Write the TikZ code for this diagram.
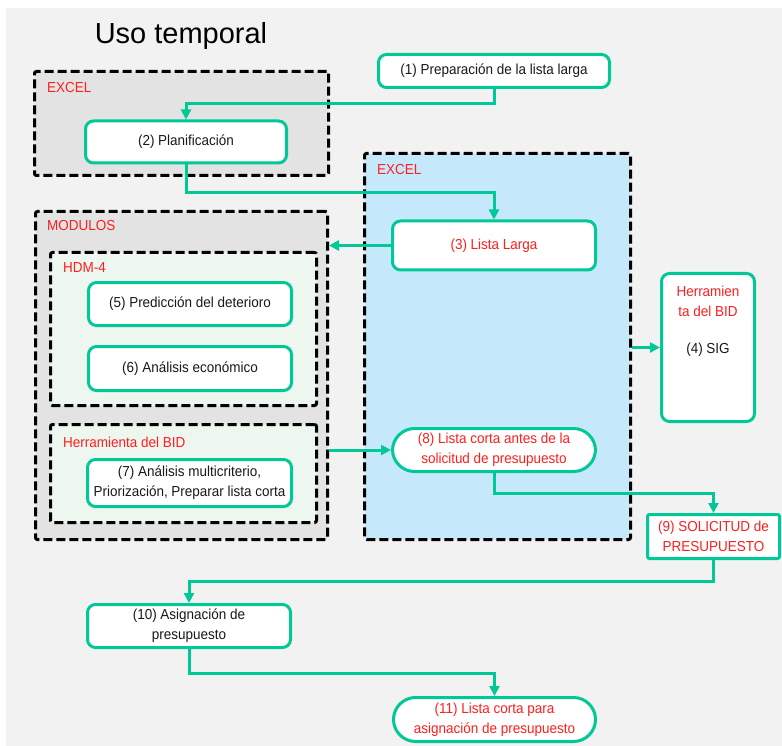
\documentclass[tikz,border=0pt]{standalone}
\usepackage{fontspec}
\setmainfont{Liberation Sans}
\newfontfamily\dgmface[FakeStretch=0.93]{Liberation Sans}
\usetikzlibrary{arrows.meta}

\definecolor{bggray}{HTML}{F2F2F2}
\definecolor{groupgray}{HTML}{E3E3E3}
\definecolor{modgreen}{HTML}{EEF6F0}
\definecolor{excelblue}{HTML}{C5E9FB}
\definecolor{flowgreen}{HTML}{00C997}
\definecolor{labelred}{HTML}{FF1E1E}

\newcommand{\dgmfont}{\dgmface\fontsize{14.5}{20}\selectfont}

\tikzset{
  grp/.style={draw=black, line width=3pt, dash pattern=on 9pt off 4pt,
    rounded corners=2pt, inner sep=0pt},
  stepbox/.style={draw=flowgreen, line width=3pt, fill=white,
    rounded corners=8pt, align=center, inner sep=0pt, font=\dgmfont,
    text=black!90},
  pill/.style={stepbox, rounded corners=22pt, text=labelred},
  grplabel/.style={anchor=west, inner sep=0pt, font=\dgmfont, text=labelred},
  flow/.style={draw=flowgreen, line width=3pt,
    -{Triangle[length=10pt,width=10pt]}},
}

\begin{document}
\begin{tikzpicture}[x=1pt, y=-1pt]
  \useasboundingbox (0,0) rectangle (782,746);
  \fill[bggray] (6,8) rectangle (782,746);

  % title
  \node[inner sep=0pt, font=\fontsize{29}{34}\selectfont] (title) at (181,36) {Uso temporal};

  % grouping frames
  \node[grp, fill=groupgray, minimum width=294pt, minimum height=104pt] (excelA) at (181.5,123.5) {};
  \node[grp, fill=groupgray, minimum width=292pt, minimum height=328pt] (modulos) at (181.5,375.5) {};
  \node[grp, fill=modgreen, minimum width=266pt, minimum height=153pt] (hdm) at (183.5,329) {};
  \node[grp, fill=modgreen, minimum width=266pt, minimum height=98pt] (herr) at (183.5,473.5) {};
  \node[grp, fill=excelblue, minimum width=266pt, minimum height=386pt] (excelB) at (497.5,346.5) {};

  % frame labels
  \node[grplabel] (lblexcelA) at (47,87.5) {EXCEL};
  \node[grplabel] (lblexcelB) at (377,170) {EXCEL};
  \node[grplabel] (lblmod) at (47,226) {MODULOS};
  \node[grplabel] (lblhdm) at (63,268) {HDM-4};
  \node[grplabel] (lblherr) at (63,442) {Herramienta del BID};

  % process steps
  \node[stepbox, minimum width=231pt, minimum height=33pt] (p1) at (494,71) {(1) Preparación de la lista larga};
  \node[stepbox, minimum width=201pt, minimum height=42pt] (p2) at (186,142) {(2) Planificación};
  \node[stepbox, minimum width=203pt, minimum height=49pt, text=labelred] (p3) at (494,245.5) {(3) Lista Larga};
  \node[stepbox, minimum width=203pt, minimum height=43pt] (p5) at (190,304) {(5) Predicción del deterioro};
  \node[stepbox, minimum width=203pt, minimum height=44pt] (p6) at (190,368.5) {(6) Análisis económico};
  \node[stepbox, minimum width=204pt, minimum height=47pt] (p7) at (189.5,483) {(7) Análisis multicriterio,\\Priorización, Preparar lista corta};
  \node[pill, minimum width=203pt, minimum height=43pt] (p8) at (494,450) {(8) Lista corta antes de la\\solicitud de presupuesto};
  \node[stepbox, minimum width=93pt, minimum height=148pt] (p4) at (708,347.5) {};
  \node[inner sep=0pt, align=center, font=\dgmfont, text=labelred] (p4tool) at (708,301) {Herramien\\ta del BID};
  \node[inner sep=0pt, font=\dgmfont, text=black!90] (p4sig) at (708,350) {(4) SIG};
  \node[stepbox, rounded corners=2pt, minimum width=132pt, minimum height=44pt, text=labelred] (p9) at (713.5,536.5) {(9) SOLICITUD de\\PRESUPUESTO};
  \node[stepbox, minimum width=203pt, minimum height=43pt] (p10) at (189,626) {(10) Asignación de\\presupuesto};
  \node[pill, minimum width=202pt, minimum height=44pt] (p11) at (494.5,719.5) {(11) Lista corta para\\asignación de presupuesto};

  % connectors
  \draw[flow] (p1.south) -- ++(0,15) -| (p2.north);
  \draw[flow] (p2.south) -- ++(0,28) -| (p3.north);
  \draw[flow] (p3.west) -- (p3.west -| modulos.east);
  \draw[flow] (modulos.east |- p8.west) -- (p8.west);
  \draw[flow] (excelB.east |- p4.west) -- (p4.west);
  \draw[flow] (p8.south) -- ++(0,20) -| (p9.north);
  \draw[flow] (p9.south) -- ++(0,21) -| (p10.north);
  \draw[flow] (p10.south) -- ++(0,24) -| (p11.north);
\end{tikzpicture}
\end{document}
